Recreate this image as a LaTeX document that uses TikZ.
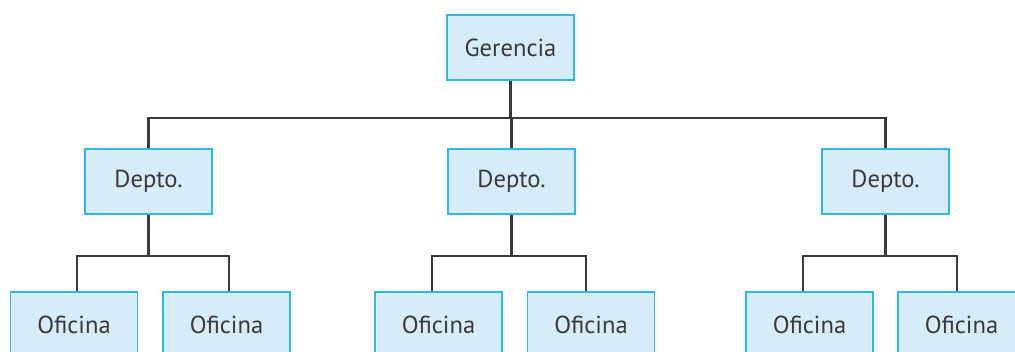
\documentclass[tikz,border=0pt]{standalone}
\usepackage{fontspec}
\setmainfont{PT Sans}
\usepackage{tikz}
\usetikzlibrary{positioning}
\definecolor{boxline}{HTML}{2BB8EA}
\definecolor{boxfill}{HTML}{D6ECF9}
\definecolor{linkgray}{HTML}{3A3A3A}

\begin{document}
\begin{tikzpicture}[x=0.5pt,y=-0.5pt,
  unit/.style={draw=boxline,fill=boxfill,line width=0.8pt,minimum width=63.5pt,minimum height=32.5pt,inner sep=0pt,align=center,text=linkgray,font=\fontsize{12.3}{14}\selectfont},
  link/.style={draw=linkgray,line width=1.05pt}]
\useasboundingbox (0,0) rectangle (1015,352);
\node[unit] (ger) at (510.5,47.5) {Gerencia};
\node[unit] (dep1) at (148.5,181.5) {Depto.};
\node[unit] (dep2) at (511.5,181.5) {Depto.};
\node[unit] (dep3) at (885.5,181.5) {Depto.};
\node[unit] (of1) at (74,324.5) {Oficina};
\node[unit] (of2) at (226.5,324.5) {Oficina};
\node[unit] (of3) at (438.5,324.5) {Oficina};
\node[unit] (of4) at (591,324.5) {Oficina};
\node[unit] (of5) at (809.5,324.5) {Oficina};
\node[unit] (of6) at (961.5,324.5) {Oficina};
% top level
\draw[link] (ger.south) -- ++(0,37) coordinate (bus);
\draw[link] (bus) -| (dep1.north); \draw[link] (bus) -| (dep3.north);
\draw[link] (bus) -| (dep2.north);
% offices
\draw[link] (dep1.south) -- ++(0,41) coordinate (sub1);
\draw[link] (sub1) -| ([xshift=1.5pt]of1.north); \draw[link] (sub1) -| ([xshift=1.25pt]of2.north);
\draw[link] (dep2.south) -- ++(0,41) coordinate (sub2);
\draw[link] (sub2) -| ([xshift=-3.25pt]of3.north); \draw[link] (sub2) -| ([xshift=-2.5pt]of4.north);
\draw[link] (dep3.south) -- ++(0,41) coordinate (sub3);
\draw[link] (sub3) -| ([xshift=-3.25pt]of5.north); \draw[link] (sub3) -| ([xshift=-2.25pt]of6.north);
\end{tikzpicture}
\end{document}
